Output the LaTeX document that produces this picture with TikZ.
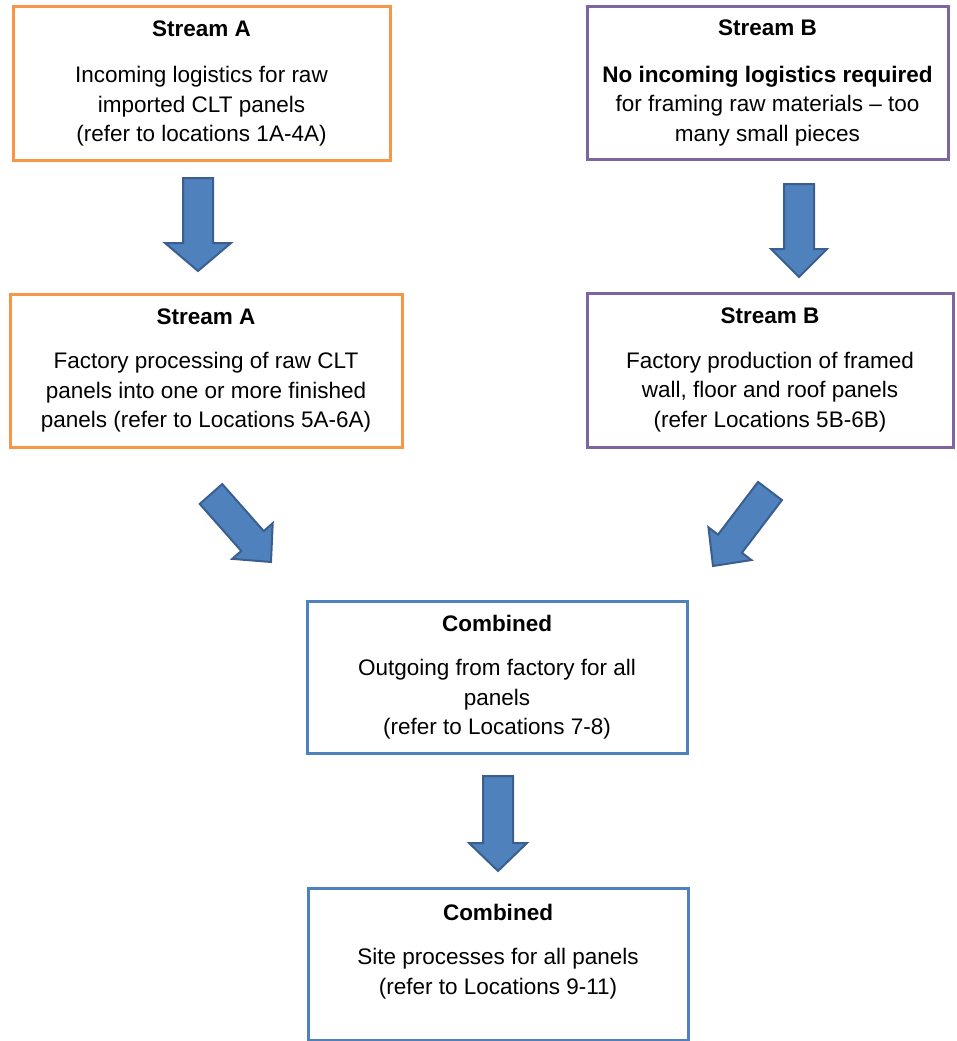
\documentclass[tikz,border=0pt]{standalone}
\usepackage{fontspec}
\setmainfont{Liberation Sans}
\usetikzlibrary{calc}
\definecolor{orA}{HTML}{F79646}
\definecolor{puB}{HTML}{8064A2}
\definecolor{blC}{HTML}{4F81BD}
\definecolor{arrF}{HTML}{4F81BD}
\definecolor{arrD}{HTML}{3A5F8E}
\newcommand\blockarrow[3]{%
  \coordinate (tmpB) at ($(#2)!28pt!(#1)$);
  \draw[arrstyle] ($(#1)!15pt!90:(#2)$) -- ($(tmpB)!15pt!90:(#2)$) --
    ($(tmpB)!#3!90:(#2)$) -- (#2) -- ($(tmpB)!#3!-90:(#2)$) --
    ($(tmpB)!15pt!-90:(#2)$) -- ($(#1)!15pt!-90:(#2)$) -- cycle;}
\begin{document}
\begin{tikzpicture}[x=1pt,y=-1pt,
  box/.style={draw=#1,line width=3pt,fill=white,rectangle,inner sep=0pt,
    align=center,font=\fontsize{22.5}{29.5}\selectfont},
  arrstyle/.style={draw=arrD,fill=arrF,line width=2pt,line join=miter}]
\useasboundingbox (0,0) rectangle (957,1041);

\node[box=orA,minimum width=377pt,minimum height=153pt] (a1) at (201.5,83.5)
  {\textbf{Stream A}\\[17pt]Incoming logistics for raw\\imported CLT panels\\(refer to locations 1A-4A)};
\node[box=puB,minimum width=361pt,minimum height=152pt] (b1) at (767.5,83)
  {\textbf{Stream B}\\[17pt]\textbf{No incoming logistics required}\\for framing raw materials -- too\\many small pieces};
\node[box=orA,minimum width=392pt,minimum height=153pt] (a2) at (206,370.5)
  {\textbf{Stream A}\\[15pt]Factory processing of raw CLT\\panels into one or more finished\\panels (refer to Locations 5A-6A)};
\node[box=puB,minimum width=366pt,minimum height=154pt] (b2) at (770,370)
  {\textbf{Stream B}\\[15pt]Factory production of framed\\wall, floor and roof panels\\(refer Locations 5B-6B)};
\node[box=blC,minimum width=380pt,minimum height=152pt] (c1) at (497,677)
  {\textbf{Combined}\\[15pt]Outgoing from factory for all\\panels\\(refer to Locations 7-8)};
\node[box=blC,minimum width=380pt,minimum height=152pt] (c2) at (498,964)
  {\textbf{Combined}\\[15pt]Site processes for all panels\\(refer to Locations 9-11)\\\mbox{}};

\coordinate (t1) at (198,178); \coordinate (h1) at (198,271);
\coordinate (t2) at (799,184); \coordinate (h2) at (799,277);
\coordinate (t3) at (211,494); \coordinate (h3) at (271,562);
\coordinate (t4) at (770,491); \coordinate (h4) at (713,566);
\coordinate (t5) at (498,776); \coordinate (h5) at (498,871);

\blockarrow{t1}{h1}{33pt}
\blockarrow{t2}{h2}{28pt}
\blockarrow{t3}{h3}{27pt}
\blockarrow{t4}{h4}{27pt}
\blockarrow{t5}{h5}{29pt}
\end{tikzpicture}
\end{document}
